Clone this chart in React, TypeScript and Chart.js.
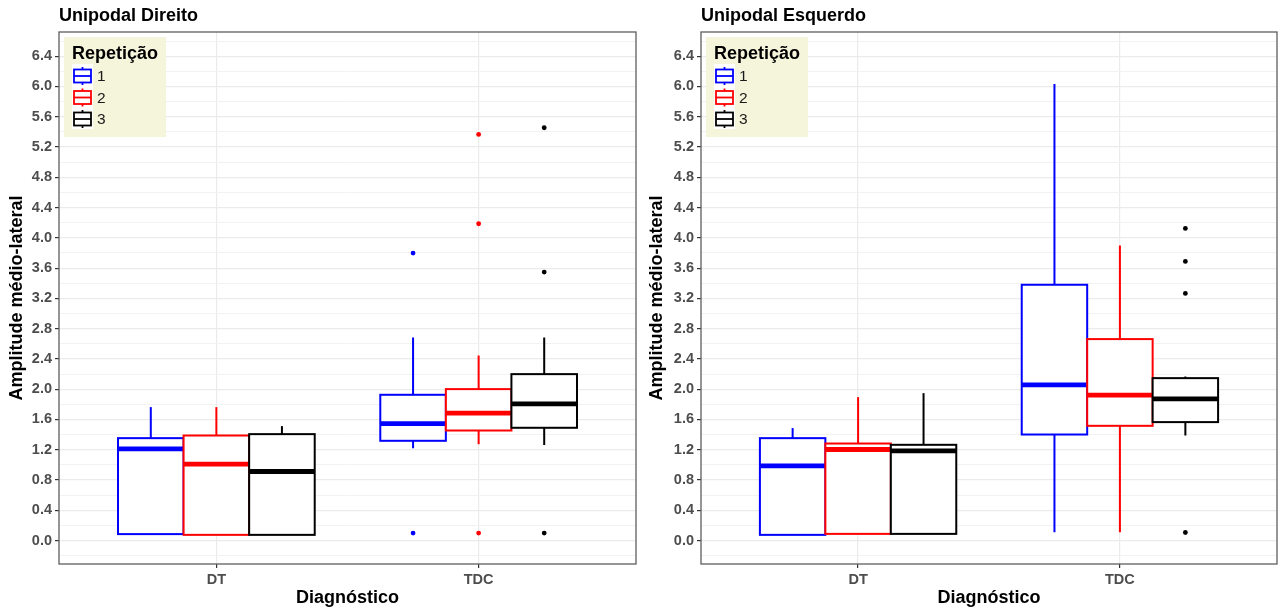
import React, { useEffect, useRef } from "react";
import { Chart, registerables } from "chart.js";

Chart.register(...registerables);

const FONT = "'Liberation Sans', Arial, sans-serif";

const categories = ["DT", "TDC"];
const repetitions = ["1", "2", "3"];
const repColors = ["#0000FF", "#FF0000", "#000000"];

const yMajorTicks = [0, 0.4, 0.8, 1.2, 1.6, 2.0, 2.4, 2.8, 3.2, 3.6, 4.0, 4.4, 4.8, 5.2, 5.6, 6.0, 6.4];
const yTickLabels = ["0.0", "0.4", "0.8", "1.2", "1.6", "2.0", "2.4", "2.8", "3.2", "3.6", "4.0", "4.4", "4.8", "5.2", "5.6", "6.0", "6.4"];
const yMinorTicks = [-0.2, 0.2, 0.6, 1.0, 1.4, 1.8, 2.2, 2.6, 3.0, 3.4, 3.8, 4.2, 4.6, 5.0, 5.4, 5.8, 6.2, 6.6];
const yMin = -0.31;
const yMax = 6.72;

// Unipodal Direito — indexed [repetição][diagnóstico]
const direitoWhiskerLow = [[0.085, 1.221], [0.075, 1.274], [0.075, 1.261]];
const direitoQ1 = [[0.085, 1.318], [0.075, 1.454], [0.075, 1.49]];
const direitoMedian = [[1.212, 1.546], [1.01, 1.684], [0.912, 1.807]];
const direitoQ3 = [[1.353, 1.926], [1.388, 2.001], [1.406, 2.199]];
const direitoWhiskerHigh = [[1.763, 2.683], [1.763, 2.445], [1.512, 2.683]];
const direitoOutliers = [
  [[], [3.799, 0.098]],
  [[], [5.366, 4.186, 0.098]],
  [[], [5.455, 3.547, 0.098]],
];

// Unipodal Esquerdo — indexed [repetição][diagnóstico]
const esquerdoWhiskerLow = [[0.075, 0.111], [0.088, 0.111], [0.088, 1.388]];
const esquerdoQ1 = [[0.075, 1.401], [0.088, 1.516], [0.088, 1.565]];
const esquerdoMedian = [[0.987, 2.058], [1.203, 1.922], [1.186, 1.873]];
const esquerdoQ3 = [[1.353, 3.38], [1.282, 2.662], [1.265, 2.146]];
const esquerdoWhiskerHigh = [[1.486, 6.032], [1.895, 3.899], [1.948, 2.168]];
const esquerdoOutliers = [
  [[], []],
  [[], []],
  [[], [4.124, 3.688, 3.265, 0.106]],
];

type Panel = {
  title: string;
  low: number[][];
  q1: number[][];
  med: number[][];
  q3: number[][];
  high: number[][];
  outliers: number[][][];
  width: number;
  axisWidth: number;
  padRight: number;
};

const panels: Panel[] = [
  {
    title: "Unipodal Direito",
    low: direitoWhiskerLow,
    q1: direitoQ1,
    med: direitoMedian,
    q3: direitoQ3,
    high: direitoWhiskerHigh,
    outliers: direitoOutliers,
    width: 640,
    axisWidth: 59,
    padRight: 4,
  },
  {
    title: "Unipodal Esquerdo",
    low: esquerdoWhiskerLow,
    q1: esquerdoQ1,
    med: esquerdoMedian,
    q3: esquerdoQ3,
    high: esquerdoWhiskerHigh,
    outliers: esquerdoOutliers,
    width: 641,
    axisWidth: 61,
    padRight: 4,
  },
];

const DODGE = 0.25;
const HALF_BOX = 0.125;
const boxX = (cat: number, rep: number) => cat + 1 + (rep - 1) * DODGE;

const isMajor = (v: number) => yMajorTicks.some((m) => Math.abs(m - v) < 1e-6);

function makePlugin(p: Panel) {
  return {
    id: "boxplots",
    beforeDatasetsDraw(chart: any) {
      const { ctx } = chart;
      const x = chart.scales.x;
      const y = chart.scales.y;
      ctx.save();
      for (let r = 0; r < repetitions.length; r++) {
        const color = repColors[r];
        for (let c = 0; c < categories.length; c++) {
          const cx = x.getPixelForValue(boxX(c, r));
          const left = x.getPixelForValue(boxX(c, r) - HALF_BOX);
          const right = x.getPixelForValue(boxX(c, r) + HALF_BOX);
          const yLow = y.getPixelForValue(p.low[r][c]);
          const yQ1 = y.getPixelForValue(p.q1[r][c]);
          const yMed = y.getPixelForValue(p.med[r][c]);
          const yQ3 = y.getPixelForValue(p.q3[r][c]);
          const yHigh = y.getPixelForValue(p.high[r][c]);
          ctx.strokeStyle = color;
          ctx.lineWidth = 2;
          ctx.beginPath();
          ctx.moveTo(cx, yHigh);
          ctx.lineTo(cx, yQ3);
          ctx.moveTo(cx, yQ1);
          ctx.lineTo(cx, yLow);
          ctx.stroke();
          ctx.fillStyle = "#FFFFFF";
          ctx.fillRect(left, yQ3, right - left, yQ1 - yQ3);
          ctx.strokeRect(left, yQ3, right - left, yQ1 - yQ3);
          ctx.lineWidth = 4.8;
          ctx.beginPath();
          ctx.moveTo(left, yMed);
          ctx.lineTo(right, yMed);
          ctx.stroke();
        }
      }
      ctx.restore();
    },
    afterDraw(chart: any) {
      const { ctx, chartArea } = chart;
      const { left, top, right, bottom } = chartArea;
      ctx.save();
      // panel border
      ctx.strokeStyle = "#5E5E5E";
      ctx.lineWidth = 1.3;
      ctx.strokeRect(left, top, right - left, bottom - top);

      // panel title
      ctx.fillStyle = "#000000";
      ctx.font = `bold 18px ${FONT}`;
      ctx.textAlign = "left";
      ctx.textBaseline = "middle";
      ctx.fillText(p.title, left, 16);

      // axis titles
      ctx.textAlign = "center";
      ctx.fillText("Diagnóstico", (left + right) / 2, 598);
      ctx.save();
      ctx.translate(17, (top + bottom) / 2);
      ctx.rotate(-Math.PI / 2);
      ctx.fillText("Amplitude médio-lateral", 0, 0);
      ctx.restore();

      // legend
      const lx = left + 5;
      const ly = top + 5;
      ctx.fillStyle = "#F5F5DC";
      ctx.fillRect(lx, ly, 102, 100);
      ctx.fillStyle = "#000000";
      ctx.font = `bold 18px ${FONT}`;
      ctx.textAlign = "left";
      ctx.textBaseline = "middle";
      ctx.fillText("Repetição", lx + 8, ly + 17);
      ctx.fillStyle = "#FFFFFF";
      ctx.fillRect(lx + 8, ly + 27, 21, 65);
      ctx.font = `15.5px ${FONT}`;
      for (let r = 0; r < repetitions.length; r++) {
        const cy = ly + 39 + r * 21.5;
        const kx = lx + 18.5;
        ctx.strokeStyle = repColors[r];
        ctx.lineWidth = 1.8;
        ctx.beginPath();
        ctx.moveTo(kx, cy - 9);
        ctx.lineTo(kx, cy + 9);
        ctx.stroke();
        ctx.fillStyle = "#FFFFFF";
        ctx.fillRect(kx - 8.5, cy - 6.5, 17, 13);
        ctx.strokeRect(kx - 8.5, cy - 6.5, 17, 13);
        ctx.beginPath();
        ctx.moveTo(kx - 8.5, cy);
        ctx.lineTo(kx + 8.5, cy);
        ctx.stroke();
        ctx.fillStyle = "#1A1A1A";
        ctx.fillText(repetitions[r], lx + 33, cy + 1);
      }
      ctx.restore();
    },
  };
}

function makeConfig(p: Panel): any {
  const datasets = repetitions.map((rep, r) => {
    const pts: { x: number; y: number }[] = [];
    for (let c = 0; c < categories.length; c++) {
      for (const v of p.outliers[r][c]) pts.push({ x: boxX(c, r), y: v });
    }
    return {
      label: rep,
      data: pts,
      pointRadius: 2.4,
      pointBackgroundColor: repColors[r],
      pointBorderWidth: 0,
      borderColor: repColors[r],
      showLine: false,
    };
  });
  const tickFont = { family: FONT, size: 14.5, weight: "bold" as const };
  return {
    type: "scatter",
    data: { datasets },
    plugins: [makePlugin(p)],
    options: {
      responsive: false,
      animation: false,
      events: [],
      devicePixelRatio: 1,
      layout: { padding: { top: 32, right: p.padRight, left: 0, bottom: 0 } },
      plugins: { legend: { display: false }, tooltip: { enabled: false }, title: { display: false } },
      scales: {
        x: {
          type: "linear",
          min: 0.4,
          max: 2.6,
          bounds: "data",
          afterFit: (s: any) => {
            s.height = 48;
          },
          afterBuildTicks: (s: any) => {
            s.ticks = categories.map((_, i) => ({ value: i + 1 }));
          },
          border: { display: false },
          grid: {
            color: "#EBEBEB",
            lineWidth: 1.2,
            drawTicks: true,
            tickLength: 4,
            tickColor: "#333333",
          },
          ticks: {
            autoSkip: false,
            maxRotation: 0,
            padding: 3,
            color: "#4D4D4D",
            font: tickFont,
            callback: (v: number) => categories[Math.round(v) - 1] ?? "",
          },
        },
        y: {
          type: "linear",
          min: yMin,
          max: yMax,
          bounds: "data",
          afterFit: (s: any) => {
            s.width = p.axisWidth;
          },
          afterBuildTicks: (s: any) => {
            s.ticks = [...yMajorTicks, ...yMinorTicks].sort((a, b) => a - b).map((v) => ({ value: v }));
          },
          border: { display: false },
          grid: {
            color: (ctx: any) => (isMajor(ctx.tick.value) ? "#EBEBEB" : "#F2F2F2"),
            lineWidth: (ctx: any) => (isMajor(ctx.tick.value) ? 1.2 : 1),
            drawTicks: true,
            tickLength: 4,
            tickColor: (ctx: any) => (isMajor(ctx.tick.value) ? "#333333" : "rgba(0,0,0,0)"),
          },
          ticks: {
            autoSkip: false,
            padding: 3,
            color: "#4D4D4D",
            font: tickFont,
            callback: (v: number) => {
              const i = yMajorTicks.findIndex((m) => Math.abs(m - v) < 1e-6);
              return i >= 0 ? yTickLabels[i] : "";
            },
          },
        },
      },
    },
  };
}

function PanelChart({ panel, left }: { panel: Panel; left: number }) {
  const ref = useRef<HTMLCanvasElement | null>(null);
  useEffect(() => {
    if (!ref.current) return;
    const chart = new Chart(ref.current, makeConfig(panel));
    return () => chart.destroy();
  }, [panel]);
  return (
    <canvas
      ref={ref}
      width={panel.width}
      height={612}
      style={{ position: "absolute", left, top: 0, width: panel.width, height: 612, display: "block" }}
    />
  );
}

export default function App() {
  return (
    <div style={{ position: "fixed", left: 0, top: 0, width: 1281, height: 612, background: "#FFFFFF" }}>
      <PanelChart panel={panels[0]} left={0} />
      <PanelChart panel={panels[1]} left={640} />
    </div>
  );
}
